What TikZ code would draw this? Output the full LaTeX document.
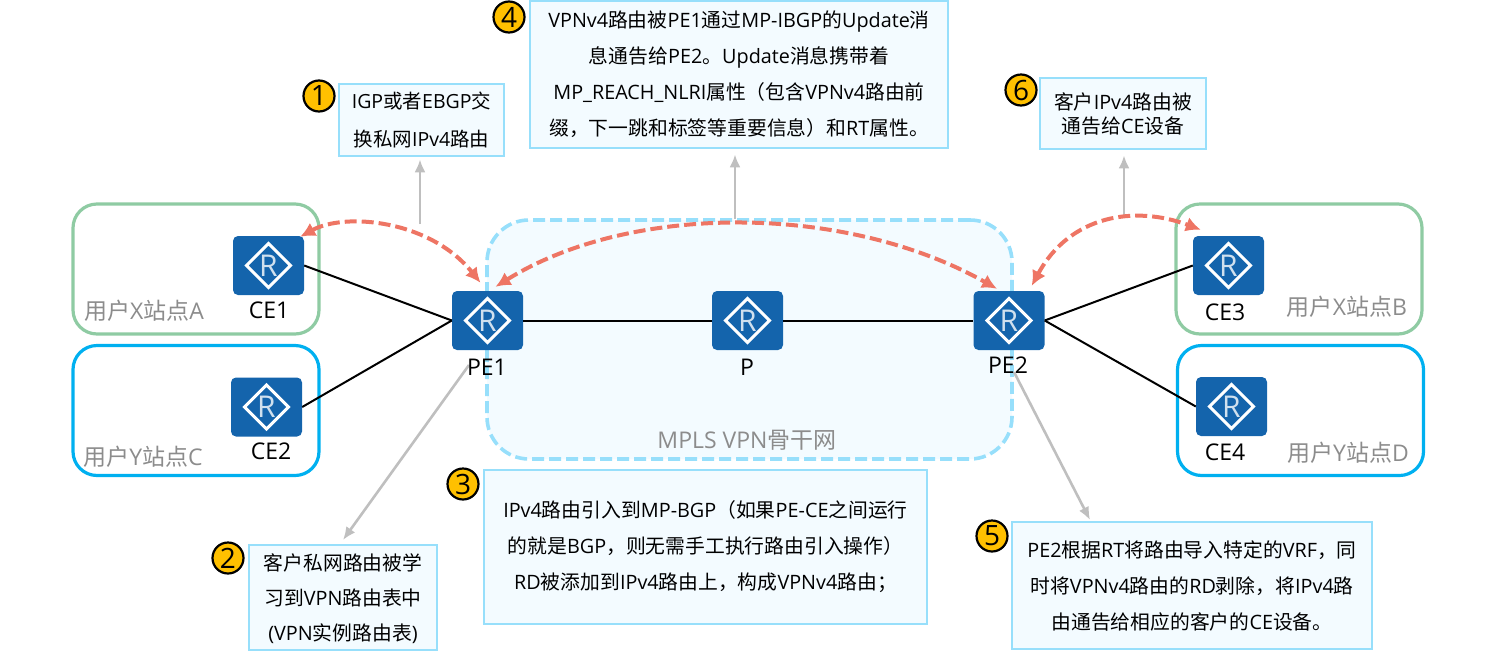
\documentclass[tikz,border=0pt]{standalone}
\usepackage{fontspec}
\setmainfont{Open Sans}
\newfontfamily\cjk{Noto Sans CJK SC}
\newcommand{\zh}[1]{{\cjk #1}}
\usetikzlibrary{arrows.meta}
\definecolor{routerblue}{HTML}{1464AC}
\definecolor{notefill}{HTML}{F3FBFF}
\definecolor{noteline}{HTML}{97DFFB}
\definecolor{sitegreen}{HTML}{8FCBA3}
\definecolor{siteblue}{HTML}{00B0F0}
\definecolor{flowred}{HTML}{EE7564}
\definecolor{hintgray}{HTML}{BFBFBF}
\definecolor{labelgray}{HTML}{8C8C8C}
\definecolor{badgeyellow}{HTML}{FFC000}
\begin{document}
\begin{tikzpicture}[x=1pt,y=-1pt]
        \tikzstyle{router}=[rectangle,rounded corners=5pt,fill=routerblue,minimum width=71pt,minimum height=59pt,inner sep=0pt,
          text=white!80!routerblue,font=\fontsize{30}{30}\selectfont,
          path picture={\draw[white,sharp corners,line width=3pt] ([xshift=-22pt]path picture bounding box.center) -- ([yshift=22pt]path picture bounding box.center) -- ([xshift=22pt]path picture bounding box.center) -- ([yshift=-22pt]path picture bounding box.center) -- cycle;}]
        \tikzstyle{devname}=[font=\fontsize{23}{23}\selectfont,inner sep=0pt]
        \tikzstyle{site}=[font=\fontsize{23}{23}\selectfont,text=labelgray,inner sep=0pt]
        \tikzstyle{group}=[rectangle,rounded corners=24pt,line width=3.2pt,inner sep=0pt]
        \tikzstyle{note}=[rectangle,draw=noteline,fill=notefill,line width=2.7pt,align=center,inner sep=0pt,font=\fontsize{19.8}{36}\selectfont]
        \tikzstyle{badge}=[circle,draw=black,fill=badgeyellow,line width=2.2pt,minimum size=31pt,inner sep=0pt,font=\fontsize{28}{28}\selectfont]
        \tikzstyle{link}=[draw=black,line width=2pt]
        \tikzstyle{hint}=[draw=hintgray,line width=2.6pt,-{Latex[length=13pt,width=11pt]}]
        \tikzstyle{flow}=[draw=flowred,line width=4pt,dash pattern=on 12pt off 5pt,{Latex[length=15pt,width=15pt]}-{Latex[length=15pt,width=15pt]}]
        \useasboundingbox (0,0) rectangle (1496,662);

        \node [group,draw=sitegreen,minimum width=246pt,minimum height=130pt] (siteA) at (196,269) {};
        \node [group,draw=siteblue,minimum width=246pt,minimum height=130pt] (siteC) at (196,410.5) {};
        \node [group,draw=sitegreen,minimum width=246pt,minimum height=130pt] (siteB) at (1299,269) {};
        \node [group,draw=siteblue,minimum width=246pt,minimum height=130pt] (siteD) at (1300.5,410.5) {};
        \node [group,rounded corners=42pt,draw=noteline,fill=notefill,line width=3.6pt,dash pattern=on 12pt off 5pt,minimum width=525pt,minimum height=239pt] (mpls) at (749.5,339.5) {};

        \node [site] (labA) at (144,311) {\zh{用户}X\zh{站点}A};
        \node [site] (labC) at (143,457) {\zh{用户}Y\zh{站点}C};
        \node [site] (labB) at (1347,307) {\zh{用户}X\zh{站点}B};
        \node [site] (labD) at (1348,453) {\zh{用户}Y\zh{站点}D};
        \node [site] (labM) at (747,440) {MPLS VPN\zh{骨干网}};

        \coordinate (g1) at (420,224);
        \coordinate (g4) at (735,219);
        \coordinate (g6) at (1124,218);
        \coordinate (g2) at (469,365);
        \coordinate (t2) at (343,540);
        \coordinate (g5) at (1014,372);
        \coordinate (t5) at (1090,520);

        \node [router] (CE1) at (268.5,265.5) {R};
        \node [router] (CE2) at (266.5,407) {R};
        \node [router] (PE1) at (487.5,320.5) {R};
        \node [router] (P) at (747.5,320.5) {R};
        \node [router] (PE2) at (1009,320.5) {R};
        \node [router] (CE3) at (1228.5,265.5) {R};
        \node [router] (CE4) at (1231.5,406.5) {R};

        \path[link] (CE1.east) -- (PE1.west);
        \path[link] (CE2.east) -- (PE1.west);
        \path[link] (PE1.east) -- (P.west);
        \path[link] (P.east) -- (PE2.west);
        \path[link] (PE2.east) -- (CE3.west);
        \path[link] (PE2.east) -- (CE4.west);

        \path[hint] (g2) -- (t2);
        \path[hint] (g5) -- (t5);

        \node [devname] (nCE1) at (269,310) {CE1};
        \node [devname] (nCE2) at (271,451) {CE2};
        \node [devname] (nPE1) at (487,367) {PE1};
        \node [devname] (nP) at (747,367) {P};
        \node [devname] (nPE2) at (1008,365) {PE2};
        \node [devname] (nCE3) at (1225,312) {CE3};
        \node [devname] (nCE4) at (1225,452) {CE4};

        \node [note,minimum width=165pt,minimum height=72pt,font=\fontsize{19.5}{38}\selectfont] (box1) at (421.5,120) {IGP\zh{或者}EBGP\zh{交}\\\zh{换私网}IPv4\zh{路由}};
        \node [note,minimum width=188pt,minimum height=105pt,font=\fontsize{19.8}{35}\selectfont,text depth=0pt] (box2) at (343,597.5) {\zh{客户私网路由被学}\\\zh{习到}VPN\zh{路由表中}\\(VPN\zh{实例路由表})};
        \node [note,minimum width=443pt,minimum height=154pt] (box3) at (705.5,547) {IPv4\zh{路由引入到}MP-BGP\zh{（如果}PE-CE\zh{之间运行}\\\zh{的就是}BGP\zh{，则无需手工执行路由引入操作）}\\RD\zh{被添加到}IPv4\zh{路由上，构成}VPNv4\zh{路由；}};
        \node [note,minimum width=418pt,minimum height=147pt] (box4) at (739,74.5) {VPNv4\zh{路由被}PE1\zh{通过}MP-IBGP\zh{的}Update\zh{消}\\\zh{息通告给}PE2\zh{。}Update\zh{消息携带着}\\MP\_REACH\_NLRI\zh{属性（包含}VPNv4\zh{路由前}\\\zh{缀，下一跳和标签等重要信息）和}RT\zh{属性。}};
        \node [note,minimum width=360pt,minimum height=127pt] (box5) at (1192,585.5) {PE2\zh{根据}RT\zh{将路由导入特定的}VRF\zh{，同}\\\zh{时将}VPNv4\zh{路由的}RD\zh{剥除，将}IPv4\zh{路}\\\zh{由通告给相应的客户的}CE\zh{设备。}};
        \node [note,minimum width=166pt,minimum height=71pt,font=\fontsize{19.8}{24}\selectfont] (box6) at (1123,113.5) {\zh{客户}IPv4\zh{路由被}\\\zh{通告给}CE\zh{设备}};

        \node [badge] (b1) at (319,96) {1};
        \node [badge] (b2) at (228,558) {2};
        \node [badge] (b3) at (463,484) {3};
        \node [badge] (b4) at (509,17) {4};
        \node [badge] (b5) at (992,536) {5};
        \node [badge] (b6) at (1021,90) {6};

        \path[hint,shorten >=2pt] (g1) -- (g1 |- box1.south);
        \path[hint,shorten >=5pt] (g4) -- (g4 |- box4.south);
        \path[hint,shorten >=5pt] (g6) -- (g6 |- box6.south);

        \path[flow] ([xshift=-4pt,yshift=-1pt]CE1.north east) .. controls (345,212) and (430,220) .. ([xshift=-7pt,yshift=8pt]PE1.north);
        \path[flow] ([xshift=8pt,yshift=4pt]PE1.north) .. controls (630,203) and (845,203) .. ([xshift=-12pt,yshift=2pt]PE2.north);
        \path[flow] ([xshift=-13pt,yshift=5pt]PE2.north east) .. controls (1070,215) and (1135,205) .. ([xshift=8pt,yshift=6pt]CE3.north west);
\end{tikzpicture}
\end{document}
